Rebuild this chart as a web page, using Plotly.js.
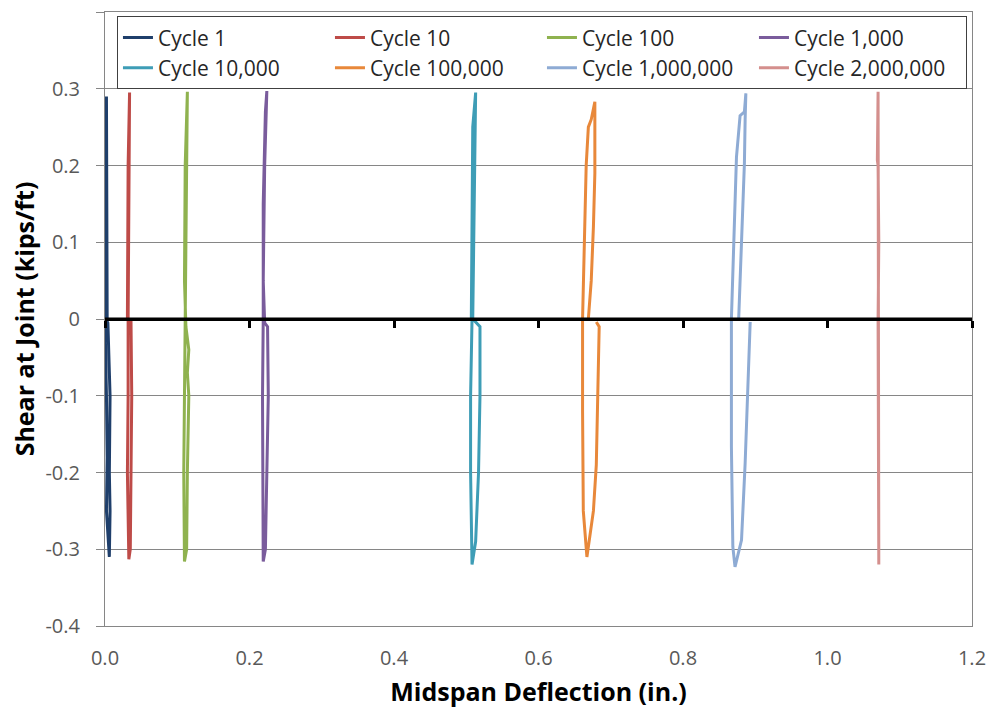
<!DOCTYPE html>
<html>
<head>
<meta charset="utf-8">
<script src="https://cdn.plot.ly/plotly-3.0.1.min.js"></script>
<style>html,body{margin:0;padding:0;background:#fff;}#chart{width:993px;height:714px;}</style>
</head>
<body>
<div id="chart"></div>
<script>
// Series names and colours
const names = ["Cycle 1", "Cycle 10", "Cycle 100", "Cycle 1,000", "Cycle 10,000", "Cycle 100,000", "Cycle 1,000,000", "Cycle 2,000,000"];
const colors = ["#1F3F6B", "#BE4B48", "#8FB24F", "#7A5C9C", "#3E9DB6", "#E8883A", "#8EABD4", "#D48F8D"];

// Midspan deflection (in.) and shear (kips/ft) for each loop
const x1 = [0.003, 0.002, 0.002, 0.002, 0.001, 0.000, 0.001, 0.004, 0.007, 0.006, 0.007, 0.006, 0.002, 0.003, 0.002, 0.000];
const y1 = [0.000, 0.150, 0.290, 0.200, 0.100, 0.020, 0.000, -0.005, -0.100, -0.200, -0.250, -0.310, -0.250, -0.180, -0.100, 0.000];

const x10 = [0.032, 0.033, 0.034, 0.032, 0.031, 0.031, 0.036, 0.037, 0.036, 0.035, 0.033, 0.031, 0.032, 0.032];
const y10 = [0.000, 0.150, 0.295, 0.200, 0.100, 0.000, -0.003, -0.100, -0.200, -0.300, -0.313, -0.200, -0.100, 0.000];

const x100 = [0.111, 0.113, 0.114, 0.111, 0.110, 0.112, 0.116, 0.114, 0.116, 0.114, 0.113, 0.110, 0.109, 0.110, 0.111];
const y100 = [0.000, 0.150, 0.296, 0.200, 0.050, -0.010, -0.040, -0.070, -0.100, -0.200, -0.300, -0.316, -0.200, -0.100, 0.000];

const x1k = [0.219, 0.219, 0.222, 0.224, 0.221, 0.219, 0.221, 0.225, 0.226, 0.224, 0.222, 0.219, 0.218, 0.218, 0.219];
const y1k = [0.000, 0.150, 0.270, 0.297, 0.200, 0.050, -0.005, -0.010, -0.100, -0.200, -0.300, -0.316, -0.200, -0.100, 0.000];

const x10k = [0.509, 0.510, 0.511, 0.513, 0.509, 0.508, 0.507, 0.511, 0.519, 0.519, 0.517, 0.513, 0.508, 0.506, 0.506, 0.508];
const y10k = [0.000, 0.100, 0.200, 0.295, 0.250, 0.100, 0.000, -0.002, -0.010, -0.100, -0.200, -0.290, -0.320, -0.200, -0.100, 0.000];

const x100k = [0.669, 0.673, 0.676, 0.678, 0.678, 0.678, 0.673, 0.669, 0.666, 0.663, 0.661, 0.661, 0.662, 0.667, 0.676, 0.680, 0.683, 0.684, 0.680];
const y100k = [0.000, 0.050, 0.120, 0.190, 0.260, 0.283, 0.260, 0.250, 0.200, 0.100, 0.000, -0.120, -0.250, -0.310, -0.250, -0.190, -0.040, -0.010, -0.004];

const x1m = [0.877, 0.879, 0.883, 0.885, 0.886, 0.887, 0.885, 0.879, 0.874, 0.870, 0.867, 0.867, 0.869, 0.872, 0.881, 0.886, 0.891, 0.893];
const y1m = [-0.002, 0.051, 0.138, 0.203, 0.260, 0.294, 0.270, 0.265, 0.211, 0.094, 0.000, -0.166, -0.297, -0.323, -0.288, -0.188, -0.036, -0.004];

const x2m = [1.070, 1.071, 1.070, 1.069, 1.070, 1.070, 1.070, 1.071, 1.071, 1.071, 1.070, 1.070];
const y2m = [0.000, 0.100, 0.200, 0.207, 0.296, 0.100, 0.000, -0.100, -0.200, -0.320, -0.200, 0.000];

const xs = [x1, x10, x100, x1k, x10k, x100k, x1m, x2m];
const ys = [y1, y10, y100, y1k, y10k, y100k, y1m, y2m];

// Axis ticks
const xTicks = [0.0, 0.2, 0.4, 0.6, 0.8, 1.0, 1.2];
const xTickText = ["0.0", "0.2", "0.4", "0.6", "0.8", "1.0", "1.2"];
const yTicks = [-0.4, -0.3, -0.2, -0.1, 0, 0.1, 0.2, 0.3, 0.4];
const yTickText = ["-0.4", "-0.3", "-0.2", "-0.1", "0", "0.1", "0.2", "0.3", "0.4"];

const FONT = "Open Sans, Liberation Sans, sans-serif";

const traces = names.map((n, i) => ({
  type: "scatter", mode: "lines", name: n,
  x: xs[i], y: ys[i],
  line: {color: colors[i], width: 3, shape: "linear"},
  xaxis: "x", yaxis: "y"
}));

// zero-line axis carrying the tick marks
traces.push({type: "scatter", mode: "lines", x: [xTicks[0], xTicks[xTicks.length - 1]], y: [0, 0],
  xaxis: "x2", yaxis: "y", showlegend: false, hoverinfo: "skip",
  line: {color: "#000000", width: 3}});

const layout = {
  width: 993, height: 714,
  margin: {l: 105, r: 21, t: 12, b: 88},
  paper_bgcolor: "#ffffff", plot_bgcolor: "#ffffff",
  font: {family: FONT, color: "#595959", size: 20},
  showlegend: true,
  legend: {
    orientation: "h", x: 0.0138, y: 0.993, xanchor: "left", yanchor: "top",
    bgcolor: "#ffffff", bordercolor: "#404040", borderwidth: 1,
    entrywidth: 167, entrywidthmode: "pixels",
    font: {family: FONT, size: 21, color: "#262626"},
    traceorder: "normal"
  },
  xaxis: {
    range: [0, 1.2], tickvals: xTicks, ticktext: xTickText,
    showgrid: false, zeroline: false,
    showline: true, linecolor: "#868686", linewidth: 1, mirror: true,
    ticks: "", ticklabelstandoff: 14,
    tickfont: {family: FONT, size: 20, color: "#595959"},
    title: {text: "<b>Midspan Deflection (in.)</b>", font: {family: FONT, size: 25, color: "#000000"}, standoff: 13}
  },
  xaxis2: {
    range: [0, 1.2], overlaying: "x", anchor: "free", position: 0.5, side: "bottom",
    tickvals: xTicks, showticklabels: false, showgrid: false, zeroline: false,
    showline: true, linecolor: "#000000", linewidth: 3,
    ticks: "outside", ticklen: 7, tickwidth: 3, tickcolor: "#000000"
  },
  yaxis: {
    range: [-0.4, 0.4], tickvals: yTicks, ticktext: yTickText,
    showgrid: true, gridcolor: "#868686", gridwidth: 1, zeroline: false,
    showline: true, linecolor: "#868686", linewidth: 1, mirror: true,
    ticks: "outside", ticklen: 8, tickcolor: "#868686", ticklabelstandoff: 12,
    tickfont: {family: FONT, size: 20, color: "#595959"},
    title: {text: "<b>Shear at Joint (kips/ft)</b>", font: {family: FONT, size: 25, color: "#000000"}, standoff: 3}
  }
};

Plotly.newPlot("chart", traces, layout, {displayModeBar: false, staticPlot: true});
</script>
</body>
</html>
